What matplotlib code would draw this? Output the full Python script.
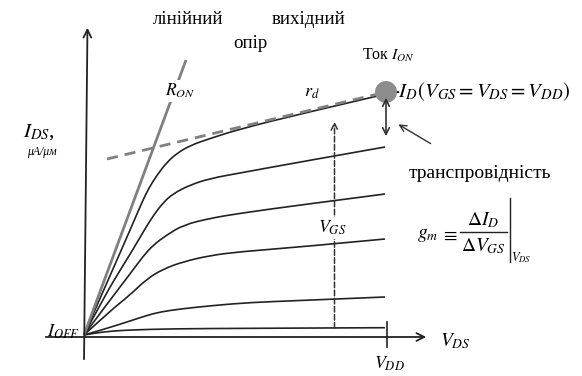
import matplotlib.pyplot as plt
from matplotlib.path import Path
from matplotlib.patches import PathPatch

plt.rcParams['font.family'] = ['Liberation Serif', 'DejaVu Serif']
plt.rcParams['mathtext.fontset'] = 'stix'

# output curves I_DS(V_DS) (origin = axes crossing)
vds_on = [0, 16, 32.7, 42.7, 51, 57.7, 64.3, 72.7, 82.7, 92.7, 106, 126, 156, 216, 302]
ids_on = [0, 36.5, 74.5, 97.3, 116.5, 132, 146, 159.5, 172.5, 181.5, 189.5, 196.5, 206, 221, 241]
vds_2 = [0, 20, 39.3, 49.3, 59.3, 69.3, 79.3, 89.3, 106, 126, 156, 216, 301]
ids_2 = [0, 38, 70, 86, 103.3, 119.5, 132.5, 141.5, 150, 156.5, 162, 173, 188]
vds_3 = [0, 26, 46, 59.3, 69.3, 82.7, 99.3, 126, 156, 216, 301]
ids_3 = [0, 35, 61, 79, 90, 100, 110, 116.7, 121.7, 130, 141]
vds_4 = [0, 26, 46, 62.7, 79.3, 99.3, 126, 156, 216, 301]
ids_4 = [0, 24, 40, 56, 66, 73.3, 79.5, 83.3, 88, 96]
vds_5 = [0, 21, 46, 62.7, 76, 96, 129, 166, 216, 301]
ids_5 = [0, 6, 14, 19.5, 23, 26, 29.5, 32.5, 34.5, 38]
vds_6 = [0, 11, 29, 46, 86, 166, 301]
ids_6 = [0, 2, 4, 5, 6.2, 6.7, 7.3]
curves = [(vds_on, ids_on), (vds_2, ids_2), (vds_3, ids_3),
          (vds_4, ids_4), (vds_5, ids_5), (vds_6, ids_6)]

v_dd = 303
i_on = 243
r_on_line = ([0, 102], [0, 275])
rd_line = ([23, 302], [176, 243])

fig = plt.figure(figsize=(5.82, 3.76), dpi=100)
ax = fig.add_axes([0, 0, 1, 1])
ax.set_xlim(-84, 498)
ax.set_ylim(-41, 335)
ax.axis('off')

ink = '#222222'
grey = '#808080'


def smooth_path(x, y):
    # quadratic segments through the midpoints, read points act as control points
    pts = list(zip(x, y))
    verts = [pts[0]]
    codes = [Path.MOVETO]
    for i in range(1, len(pts) - 1):
        mid = ((pts[i][0] + pts[i + 1][0]) / 2, (pts[i][1] + pts[i + 1][1]) / 2)
        if i == len(pts) - 2:
            mid = pts[-1]
        verts += [pts[i], mid]
        codes += [Path.CURVE3, Path.CURVE3]
    return Path(verts, codes)


# axes
ax.annotate('', xy=(3.5, 310), xytext=(0, -27),
            arrowprops=dict(arrowstyle='->', lw=1.3, color=ink, mutation_scale=14))
ax.annotate('', xy=(345, -2), xytext=(-41, -2),
            arrowprops=dict(arrowstyle='->', lw=1.3, color=ink, mutation_scale=14))
ax.plot([v_dd, v_dd], [-12, 13], color=ink, lw=1.2)

# R_ON and r_d
ax.plot(*r_on_line, color=grey, lw=2.0, solid_capstyle='butt')
ax.plot(*rd_line, color=grey, lw=2.0, ls=(0, (4, 2.5)))

for x, y in curves:
    ax.add_patch(PathPatch(smooth_path(x, y), fill=False, edgecolor=ink, lw=1.2))

# I_ON point
ax.scatter([v_dd - 1], [i_on], s=250, color='#8c8c8c', zorder=5, edgecolors='none')

# transconductance arrow
ax.annotate('', xy=(302, 196), xytext=(302, 240),
            arrowprops=dict(arrowstyle='<->', lw=1.2, color='#333333', mutation_scale=12),
            zorder=6)
ax.annotate('', xy=(312, 212), xytext=(349, 190),
            arrowprops=dict(arrowstyle='->', lw=1.0, color='#333333', mutation_scale=12))

# V_GS dashed arrow
ax.annotate('', xy=(250.5, 216), xytext=(250.5, 4),
            arrowprops=dict(arrowstyle='->', lw=1.1, color='#333333', ls='--',
                            mutation_scale=12))

white = dict(facecolor='white', edgecolor='none', pad=1.5)
ax.text(248, 107, r'$V_{GS}$', fontsize=13, ha='center', va='center', bbox=white)
ax.text(96, 244, r'$R_{ON}$', fontsize=12.5, ha='center', va='center', bbox=white)
ax.text(228, 243, r'$r_d$', fontsize=13, ha='center', va='center')

ax.text(104, 315, 'лінійний', fontsize=13.6, ha='center', va='center')
ax.text(225, 316, 'вихідний', fontsize=13.6, ha='center', va='center')
ax.text(166, 292, 'опір', fontsize=13.6, ha='center', va='center')
ax.text(305, 280, r'Ток $I_{ON}$', fontsize=11.5, ha='center', va='center')
ax.text(308, 243, r'-$I_D\left(V_{GS}=V_{DS}=V_{DD}\right)$', fontsize=15,
        ha='left', va='center')
ax.text(396, 162, 'транспровідність', fontsize=14, ha='center', va='center')

# g_m definition
ax.text(344, 99, r'$g_m$', fontsize=14, ha='center', va='center')
ax.text(366, 99, r'$\equiv$', fontsize=14, ha='center', va='center')
ax.text(399, 115, r'$\Delta I_D$', fontsize=14, ha='center', va='center')
ax.text(399, 89, r'$\Delta V_{GS}$', fontsize=14, ha='center', va='center')
ax.plot([376, 423], [103, 103], color=ink, lw=1.0)
ax.plot([425.5, 425.5], [73, 137], color=ink, lw=1.0)
ax.text(437, 77, r'$V_{DS}$', fontsize=9, ha='center', va='center')

ax.text(-45, 203, r'$I_{DS}$,', fontsize=15, ha='center', va='center')
ax.text(-42, 183, 'μA/μм', fontsize=8.5, style='italic', ha='center', va='center')
ax.text(-4, 3.5, r'$I_{OFF}$', fontsize=13, ha='right', va='center')
ax.text(371, -6, r'$V_{DS}$', fontsize=14, ha='center', va='center')
ax.text(305, -29, r'$V_{DD}$', fontsize=13, ha='center', va='center')

fig.savefig('out.png', dpi=100, facecolor='white')
